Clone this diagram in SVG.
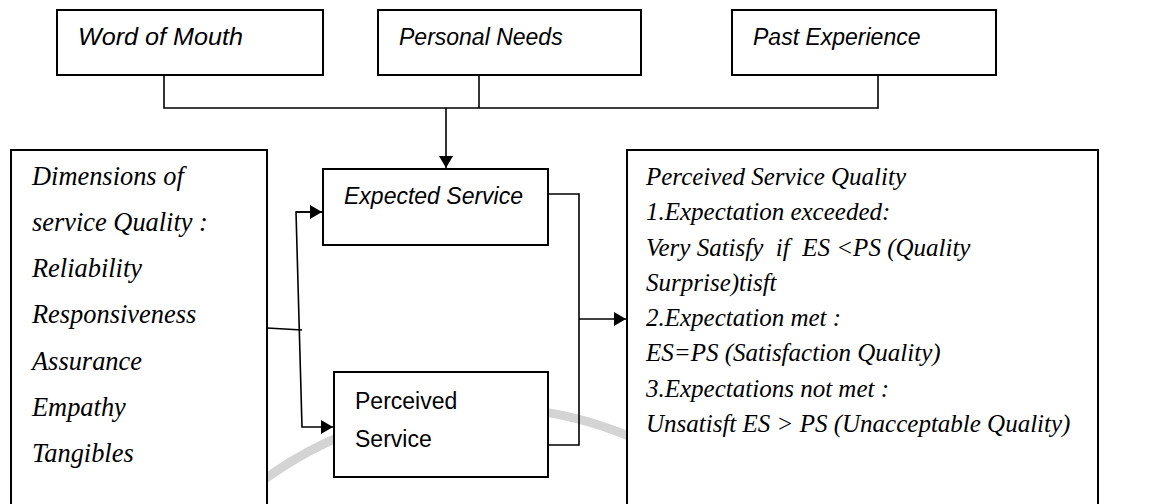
<svg xmlns="http://www.w3.org/2000/svg" width="1151" height="504" viewBox="0 0 1151 504">
<style>
.box{fill:#fff;stroke:#000;stroke-width:2}
.ln{fill:none;stroke:#000;stroke-width:1.6}
.sans{font-family:"Liberation Sans",Arial,sans-serif;font-size:23px;fill:#000}
.it{font-style:italic}
.ser{font-family:"Liberation Serif","Times New Roman",serif;font-style:italic;font-size:25px;fill:#000}
.serl{font-size:26.4px}
</style>
<defs>
<marker id="ah" viewBox="0 0 12 14" refX="12" refY="7" markerWidth="12" markerHeight="14" markerUnits="userSpaceOnUse" orient="auto">
<path d="M0,0 L12,7 L0,14 Z" fill="#000"/>
</marker>
</defs>
<rect width="1151" height="504" fill="#fff"/>
<path d="M240,499 A373,373 0 0 1 640,441" fill="none" stroke="#d4d4d4" stroke-width="9"/>
<g id="connectors">
<polyline class="ln" points="164,75 164,108 878,108 878,75"/>
<line class="ln" x1="479" y1="75" x2="479" y2="108"/>
<line class="ln" x1="446" y1="108" x2="446" y2="168" marker-end="url(#ah)"/>
<polyline class="ln" points="267,328 302,330"/>
<polyline class="ln" points="322,212 296,212 302,427 333,427" marker-end="url(#ah)"/>
<line class="ln" x1="296" y1="212" x2="322" y2="212" marker-end="url(#ah)"/>
<polyline class="ln" points="548,194 579,194 579,445 548,445"/>
<line class="ln" x1="579" y1="319" x2="626" y2="319" marker-end="url(#ah)"/>
</g>
<g id="word-of-mouth">
<rect class="box" x="57" y="10" width="266" height="65"/>
<text class="sans it" x="78" y="45" textLength="165" lengthAdjust="spacingAndGlyphs">Word of Mouth</text>
</g>
<g id="personal-needs">
<rect class="box" x="378" y="10" width="263" height="65"/>
<text class="sans it" x="399" y="45">Personal Needs</text>
</g>
<g id="past-experience">
<rect class="box" x="732" y="10" width="264" height="65"/>
<text class="sans it" x="753" y="45">Past Experience</text>
</g>
<g id="dimensions">
<rect class="box" x="11" y="150" width="256" height="370"/>
<text class="ser serl" x="32" y="185">Dimensions of</text>
<text class="ser serl" x="32" y="231">service Quality :</text>
<text class="ser serl" x="32" y="277">Reliability</text>
<text class="ser serl" x="32" y="323">Responsiveness</text>
<text class="ser serl" x="32" y="370">Assurance</text>
<text class="ser serl" x="32" y="416">Empathy</text>
<text class="ser serl" x="32" y="462">Tangibles</text>
</g>
<g id="expected-service">
<rect class="box" x="323" y="169" width="225" height="76"/>
<text class="sans it" x="344" y="204">Expected Service</text>
</g>
<g id="perceived-service">
<rect class="box" x="334" y="372" width="214" height="105"/>
<text class="sans" x="355" y="409">Perceived</text>
<text class="sans" x="355" y="447">Service</text>
</g>
<g id="perceived-service-quality">
<rect class="box" x="627" y="150" width="471" height="370"/>
<text class="ser" x="646" y="185">Perceived Service Quality</text>
<text class="ser" x="646" y="220">1.Expectation exceeded:</text>
<text class="ser" x="646" y="256" xml:space="preserve">Very Satisfy  if  ES &lt;PS (Quality</text>
<text class="ser" x="646" y="291">Surprise)tisft</text>
<text class="ser" x="646" y="326">2.Expectation met :</text>
<text class="ser" x="646" y="361">ES=PS (Satisfaction Quality)</text>
<text class="ser" x="646" y="397">3.Expectations not met :</text>
<text class="ser" x="646" y="432">Unsatisft ES &gt; PS (Unacceptable Quality)</text>
</g>
</svg>
